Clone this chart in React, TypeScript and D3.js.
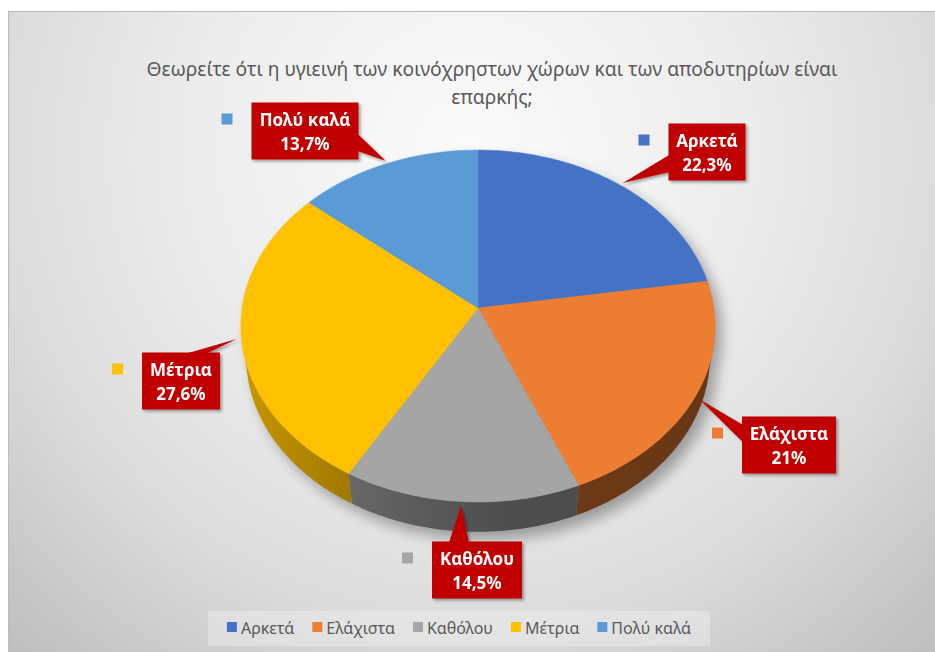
import { useEffect, useRef } from 'react';
import * as d3 from 'd3';

const CATEGORIES = ['Αρκετά', 'Ελάχιστα', 'Καθόλου', 'Μέτρια', 'Πολύ καλά'];
const PERCENTS = [22.3, 21, 14.5, 27.6, 13.7];
const COLORS = ['#4472c4', '#ed7d31', '#a5a5a5', '#ffc000', '#5b9bd5'];
const TITLE_LINES = [
  'Θεωρείτε ότι η υγιεινή των κοινόχρηστων χώρων και των αποδυτηρίων είναι',
  'επαρκής;',
];

// centres of the data label boxes (layout only)
const LABEL_POS: [number, number][] = [
  [707, 152],
  [789, 445],
  [477, 570],
  [181, 381],
  [305, 131],
];

const W = 935;
const H = 652;

// 3D pie camera
const CX = 478;
const CY = 308;
const FOCAL = 1557;
const DIST = 6.6;
const PHI = Math.asin(0.738);
const DEPTH = 0.2;

const proj = (a: number, r: number, y: number): [number, number] => {
  const x = r * Math.sin(a);
  const z = -r * Math.cos(a);
  const up = y * Math.cos(PHI) - z * Math.sin(PHI);
  const depth = DIST - (y * Math.sin(PHI) + z * Math.cos(PHI));
  return [CX + (FOCAL * x) / depth, CY - (FOCAL * up) / depth];
};

const rim = (a0: number, a1: number, r: number, y: number) => {
  const n = Math.max(2, Math.ceil((a1 - a0) / (Math.PI / 180)));
  return d3.range(n + 1).map((i) => proj(a0 + ((a1 - a0) * i) / n, r, y));
};

const fmtPct = (v: number) => `${String(v).replace('.', ',')}%`;

export default function App() {
  const svgRef = useRef<SVGSVGElement>(null);

  useEffect(() => {
    if (!svgRef.current) return;
    const svg = d3.select(svgRef.current);
    svg.selectAll('*').remove();

    const defs = svg.append('defs');

    const bg = defs
      .append('radialGradient')
      .attr('id', 'bg')
      .attr('gradientUnits', 'userSpaceOnUse')
      .attr('cx', 470)
      .attr('cy', 150)
      .attr('r', 700);
    [
      [0, '#fbfbfb'],
      [0.4, '#ececec'],
      [0.67, '#dcdcdc'],
      [0.91, '#c4c4c4'],
      [1, '#bdbdbd'],
    ].forEach(([o, c]) => bg.append('stop').attr('offset', o).attr('stop-color', c));

    defs
      .append('filter')
      .attr('id', 'boxShadow')
      .attr('x', '-20%')
      .attr('y', '-20%')
      .attr('width', '150%')
      .attr('height', '150%')
      .append('feDropShadow')
      .attr('dx', 2)
      .attr('dy', 2)
      .attr('stdDeviation', 1.8)
      .attr('flood-color', '#000')
      .attr('flood-opacity', 0.35);

    defs
      .append('filter')
      .attr('id', 'blur')
      .attr('x', '-20%')
      .attr('y', '-20%')
      .attr('width', '140%')
      .attr('height', '140%')
      .append('feGaussianBlur')
      .attr('stdDeviation', 7);

    // wall shading gradients
    COLORS.forEach((c, i) => {
      const g = defs
        .append('linearGradient')
        .attr('id', `wall${i}`)
        .attr('gradientUnits', 'userSpaceOnUse')
        .attr('x1', CX - 236)
        .attr('x2', CX + 236)
        .attr('y1', 0)
        .attr('y2', 0);
      [
        [0, 0.7],
        [0.3, 1.5],
        [0.55, 2.1],
        [1, 2.3],
      ].forEach(([o, k]) =>
        g.append('stop').attr('offset', o).attr('stop-color', d3.color(c)!.darker(k).formatHex())
      );
    });

    // chart area
    svg
      .append('rect')
      .attr('x', 8.5)
      .attr('y', 11.5)
      .attr('width', W)
      .attr('height', H)
      .attr('fill', 'url(#bg)')
      .attr('stroke', '#bcbcbc')
      .attr('stroke-width', 1);

    // title
    const title = svg
      .append('g')
      .attr('font-family', "'Noto Sans', sans-serif")
      .attr('font-size', 19.5)
      .attr('fill', '#595959')
      .attr('text-anchor', 'middle');
    const t1 = title.append('text').attr('x', 492).attr('y', 76).text(TITLE_LINES[0]);
    const t2 = title.append('text').attr('x', 492).attr('y', 104).text(TITLE_LINES[1]);
    const n1 = (t1.node() as SVGTextElement).getComputedTextLength();
    const scale = 691 / n1;
    t1.attr('textLength', 691).attr('lengthAdjust', 'spacingAndGlyphs');
    const n2 = (t2.node() as SVGTextElement).getComputedTextLength();
    t2.attr('textLength', n2 * scale).attr('lengthAdjust', 'spacingAndGlyphs');

    const arcs = d3
      .pie<number>()
      .sort(null)
      .value((d) => d)(PERCENTS);

    const line = d3.line();

    // soft shadow under the pie
    svg
      .append('g')
      .attr('filter', 'url(#blur)')
      .attr('opacity', 0.32)
      .selectAll('path')
      .data([rim(0, 2 * Math.PI, 1, -DEPTH), rim(0, 2 * Math.PI, 1, 0)])
      .enter()
      .append('path')
      .attr('transform', 'translate(7,8)')
      .attr('d', (d) => line(d) + 'Z')
      .attr('fill', '#000');

    // side walls (front only)
    const vis0 = (100 * Math.PI) / 180;
    const vis1 = (260 * Math.PI) / 180;
    svg
      .append('g')
      .selectAll('path')
      .data(arcs.filter((a) => Math.min(a.endAngle, vis1) > Math.max(a.startAngle, vis0)))
      .enter()
      .append('path')
      .attr('d', (a) => {
        const s = Math.max(a.startAngle, vis0);
        const e = Math.min(a.endAngle, vis1);
        const pts = [...rim(s, e, 1, 0), ...rim(s, e, 1, -DEPTH).reverse()];
        return line(pts) + 'Z';
      })
      .attr('fill', (a) => `url(#wall${a.index})`);

    // top faces
    svg
      .append('g')
      .selectAll('path')
      .data(arcs)
      .enter()
      .append('path')
      .attr('d', (a) => line([[CX, CY], ...rim(a.startAngle, a.endAngle, 1, 0)]) + 'Z')
      .attr('fill', (a) => COLORS[a.index])
      .attr('stroke', (a) => COLORS[a.index])
      .attr('stroke-width', 0.5);

    // data label callouts
    arcs.forEach((a, i) => {
      const mid = (a.startAngle + a.endAngle) / 2;
      const [tx, ty] = proj(mid, 1.02, 0);
      const [bx, by] = LABEL_POS[i];
      const g = svg.append('g').attr('filter', 'url(#boxShadow)');
      const rect = g.append('rect').attr('fill', '#c00000');
      const wedge = g.append('path').attr('fill', '#c00000');
      const txt = g
        .append('text')
        .attr('font-family', "'Noto Sans', sans-serif")
        .attr('font-weight', 'bold')
        .attr('font-size', 17)
        .attr('fill', '#fff')
        .attr('text-anchor', 'middle');
      txt.append('tspan').attr('x', bx).attr('y', by - 5).text(CATEGORIES[i]);
      txt.append('tspan').attr('x', bx).attr('y', by + 19).text(fmtPct(PERCENTS[i]));
      let tw = 0;
      txt.selectAll<SVGTSpanElement, unknown>('tspan').each(function () {
        tw = Math.max(tw, this.getComputedTextLength());
      });
      const w = Math.round(tw + 16);
      const h = 57;
      const x0 = bx - w / 2;
      const y0 = by - h / 2;
      rect.attr('x', x0).attr('y', y0).attr('width', w).attr('height', h);

      const dx = tx - bx;
      const dy = ty - by;
      let pts: [number, number][];
      if (Math.abs(dx) / (w / 2) > Math.abs(dy) / (h / 2)) {
        const ex = dx > 0 ? x0 + w - 1 : x0 + 1;
        const m = by + Math.sign(dy) * h * 0.2;
        pts = [
          [ex, m - h * 0.15],
          [tx, ty],
          [ex, m + h * 0.15],
        ];
      } else {
        const ey = dy > 0 ? y0 + h - 1 : y0 + 1;
        const m = bx + Math.sign(dx) * w * 0.2;
        pts = [
          [m - 10, ey],
          [tx, ty],
          [m + 10, ey],
        ];
      }
      wedge.attr('d', line(pts) + 'Z');

      // legend key next to the label
      svg
        .append('rect')
        .attr('x', x0 - 30)
        .attr('y', y0 + 11)
        .attr('width', 11)
        .attr('height', 11)
        .attr('fill', COLORS[i]);
    });

    // legend
    const legendBox = svg
      .append('rect')
      .attr('fill', '#f2f2f2')
      .attr('fill-opacity', 0.39)
      .attr('y', 611)
      .attr('height', 35);
    const legend = svg.append('g');
    let lx = 0;
    CATEGORIES.forEach((c, i) => {
      const item = legend.append('g').attr('transform', `translate(${lx},0)`);
      item
        .append('rect')
        .attr('x', 0)
        .attr('y', 622)
        .attr('width', 10)
        .attr('height', 10)
        .attr('fill', COLORS[i]);
      const t = item
        .append('text')
        .attr('x', 14)
        .attr('y', 634)
        .attr('font-family', "'Noto Sans', sans-serif")
        .attr('font-size', 16)
        .attr('fill', '#595959')
        .text(c);
      lx += 14 + (t.node() as SVGTextElement).getComputedTextLength() + 18;
    });
    const total = lx - 18;
    const lstart = 459 - total / 2;
    legend.attr('transform', `translate(${lstart},0)`);
    legendBox.attr('x', lstart - 19).attr('width', total + 38);
  }, []);

  return (
    <svg
      ref={svgRef}
      width={W}
      height={H}
      style={{ position: 'absolute', left: 0, top: 0, display: 'block' }}
    ></svg>
  );
}
